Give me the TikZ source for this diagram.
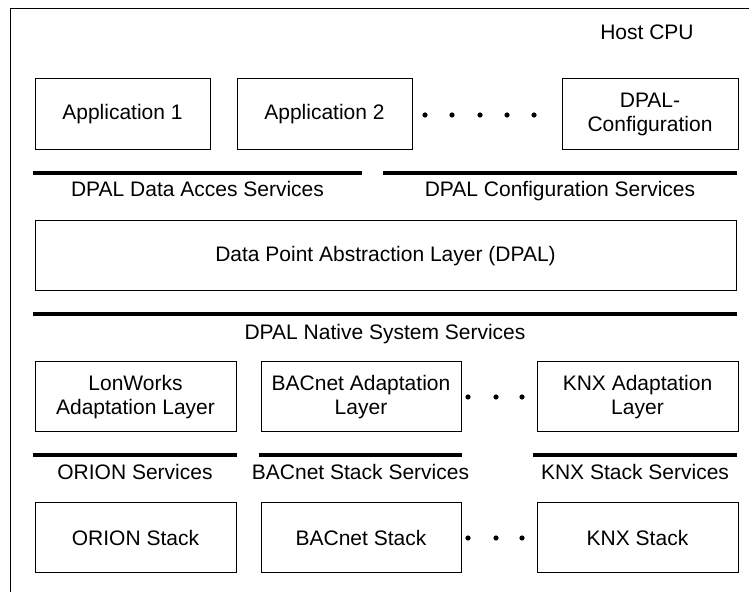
\documentclass[tikz,border=0pt]{standalone}
\usepackage{fontspec}
\setmainfont{Liberation Sans}
\usepackage{tikz}
\usetikzlibrary{positioning}
\tikzstyle{layer}=[rectangle, draw, line width=0.5pt, align=center,
    minimum width=87.5pt, minimum height=35.5pt, inner sep=1pt]
\tikzstyle{wide}=[layer, minimum width=100.5pt, minimum height=35pt]
\tikzstyle{svc}=[inner sep=0pt, text height=7.5pt, text depth=0pt]
\tikzstyle{bar}=[line width=1.6pt]

\begin{document}
\begin{tikzpicture}[x=0.5pt,y=-0.5pt,font=\fontsize{10.5}{12}\selectfont]
  \useasboundingbox (0,0) rectangle (749,592);
  \clip (0,0) rectangle (749,592);
  \draw[line width=0.5pt] (10,9) rectangle (780,620);
  \node (host) at (647,32) {Host CPU};

  % applications
  \node[layer] (app1) at (122.5,114.5) {Application 1};
  \node[layer, right=13pt of app1] (app2) {Application 2};
  \node[layer, right=74.5pt of app2, minimum width=88pt] (dpalcfg) {DPAL-\\Configuration};
  \foreach \x in {425,452,480,507,534} \fill (\x,115) circle (1.3pt);

  \draw[bar] (33,173) -- (362,173);
  \draw[bar] (383,173) -- (737,173);
  \node[svc] (dasvc) at (197.5,189) {DPAL Data Acces Services};
  \node[svc] (cfgsvc) at (560,189) {DPAL Configuration Services};

  % abstraction layer
  \node[layer, minimum width=350.5pt, minimum height=35pt] (dpal) at (385.5,256)
    {Data Point Abstraction Layer (DPAL)};
  \draw[bar] (33,314) -- (737,314);
  \node[svc] (natsvc) at (385,332) {DPAL Native System Services};

  % adaptation layers
  \node[wide] (lon) at (135.5,397) {LonWorks\\Adaptation Layer};
  \node[wide, right=12pt of lon, minimum width=100pt] (bac) {BACnet Adaptation\\Layer};
  \node[wide, right=37.5pt of bac] (knx) {KNX Adaptation\\Layer};
  \foreach \x in {468,496,522} \fill (\x,397) circle (1.3pt);

  \draw[bar] (33,455) -- (237,455);
  \draw[bar] (259,455) -- (462,455);
  \draw[bar] (533,455) -- (737,455);
  \node[svc] (orsvc) at (135,472) {ORION Services};
  \node[svc] (bacsvc) at (360.5,472) {BACnet Stack Services};
  \node[svc] (knxsvc) at (635,472) {KNX Stack Services};

  % stacks
  \node[wide] (orion) at (135.5,537.5) {ORION Stack};
  \node[wide, right=12pt of orion, minimum width=100pt] (bacstk) {BACnet Stack};
  \node[wide, right=37.5pt of bacstk] (knxstk) {KNX Stack};
  \foreach \x in {468,496,522} \fill (\x,538) circle (1.3pt);
\end{tikzpicture}
\end{document}
